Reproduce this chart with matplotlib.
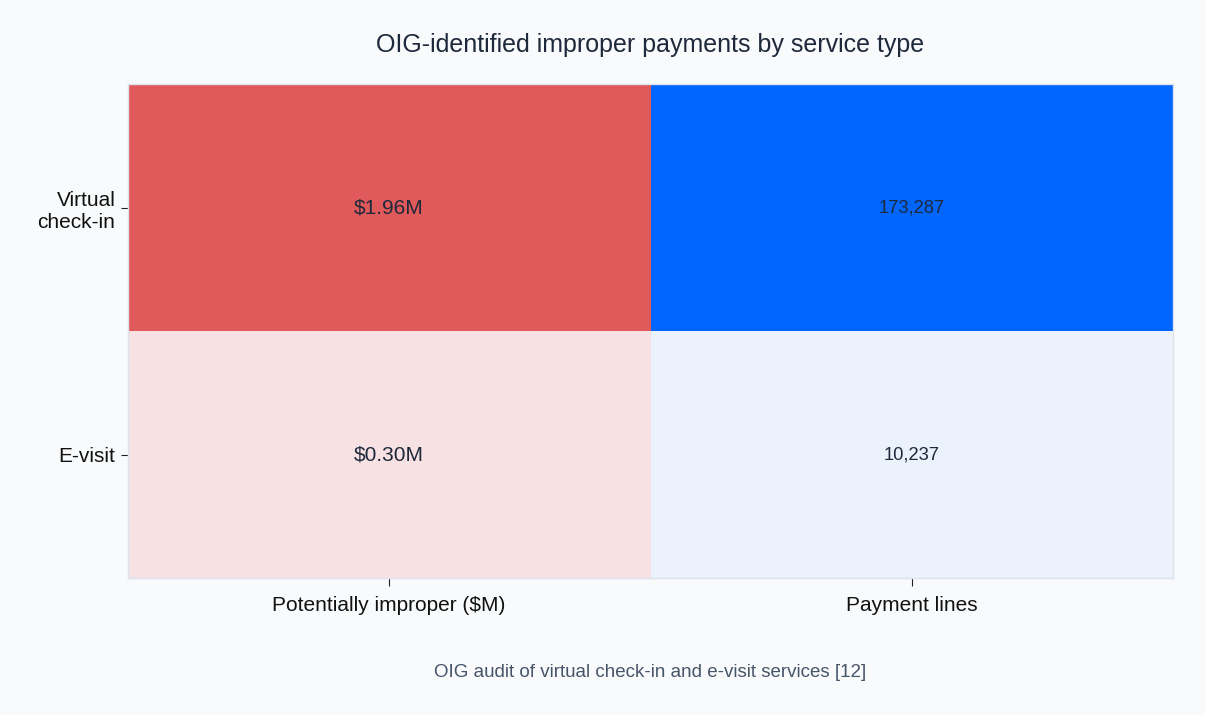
import numpy as np
import matplotlib
matplotlib.use("Agg")
import matplotlib.pyplot as plt
from matplotlib.colors import LinearSegmentedColormap, Normalize

services = ["Virtual\ncheck-in", "E-visit"]
metrics = ["Potentially improper ($M)", "Payment lines"]
improper_musd = [1.96, 0.30]
payment_lines = [173287, 10237]
improper_labels = ["$1.96M", "$0.30M"]
lines_labels = ["173,287", "10,237"]

plt.rcParams["font.family"] = ["Liberation Sans", "DejaVu Sans"]

bg = "#f8fafc"
red_cmap = LinearSegmentedColormap.from_list("reds", ["#f7e1e3", "#e15a5b"])
blue_cmap = LinearSegmentedColormap.from_list("blues", ["#ebf2fc", "#0066ff"])

columns = [improper_musd, payment_lines]
cmaps = [red_cmap, blue_cmap]

# each column gets its own colour scale
img = np.zeros((len(services), len(metrics), 4))
for j, (vals, cmap) in enumerate(zip(columns, cmaps)):
    norm = Normalize(vmin=min(vals), vmax=max(vals))
    for i, v in enumerate(vals):
        img[i, j] = cmap(norm(v))

fig = plt.figure(figsize=(12.06, 7.15), dpi=100, facecolor=bg)
ax = fig.add_axes([0.106, 0.1916, 0.8666, 0.6909])
ax.imshow(img, aspect="auto", interpolation="nearest")

for i in range(len(services)):
    ax.text(0, i, improper_labels[i], ha="center", va="center", fontsize=15, color="#1e293b")
    ax.text(1, i, lines_labels[i], ha="center", va="center", fontsize=13.2, color="#1e293b")

ax.set_xticks(range(len(metrics)))
ax.set_xticklabels(metrics, fontsize=15, color="#111111")
ax.set_yticks(range(len(services)))
ax.set_yticklabels(services, fontsize=15, color="#111111", multialignment="right")
ax.tick_params(axis="x", length=6, pad=7, color="#222222")
ax.tick_params(axis="y", length=5, pad=4, color="#222222")
for s in ax.spines.values():
    s.set_color("#dde3ec")
    s.set_linewidth(1)

fig.text(0.5394, 0.937, "OIG-identified improper payments by service type",
         ha="center", va="center", fontsize=18, color="#1e293b")
fig.text(0.5394, 0.06, "OIG audit of virtual check-in and e-visit services [12]",
         ha="center", va="center", fontsize=13.5, color="#475569")

fig.savefig("out.png", dpi=100, facecolor=bg)
